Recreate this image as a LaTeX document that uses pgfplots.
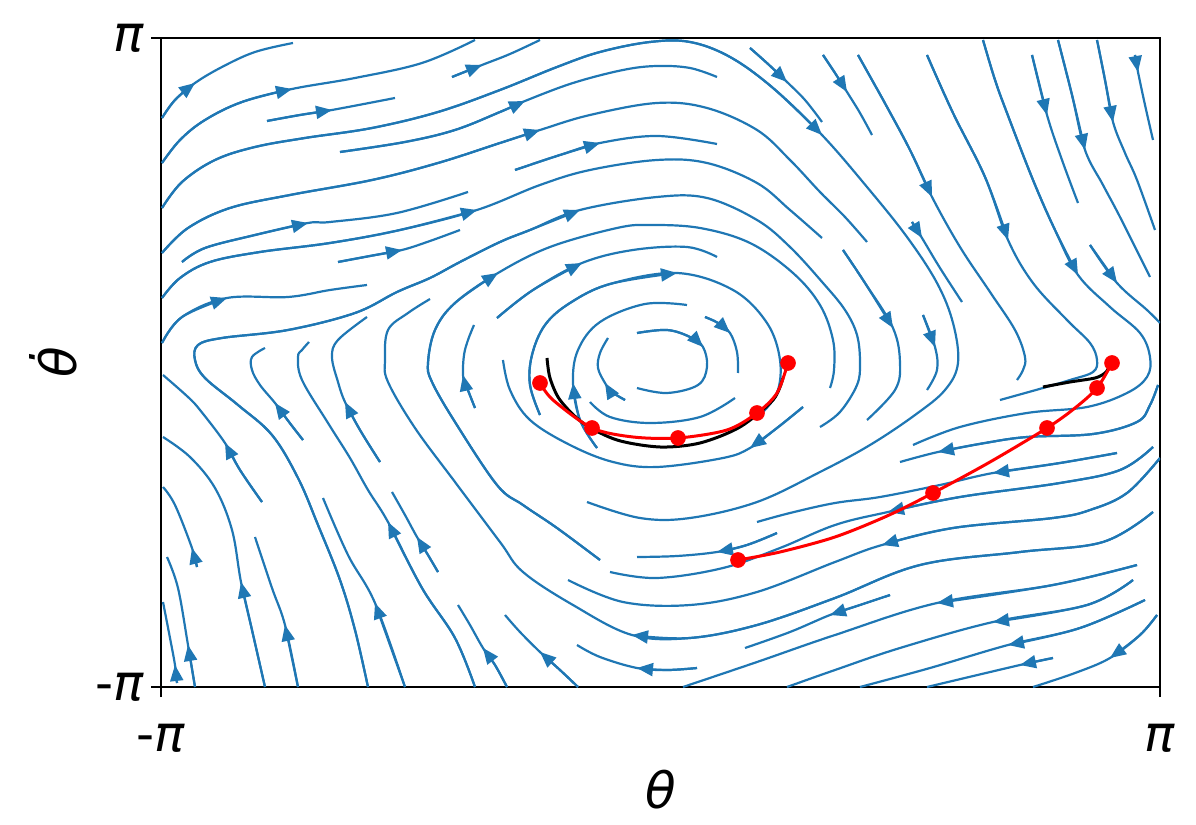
\documentclass[border=0pt]{standalone}
\usepackage{fontspec}
\setmainfont{DejaVu Sans}
\usepackage{pgfplots}
\pgfplotsset{compat=1.18}
\usetikzlibrary{arrows.meta}
\definecolor{mplblue}{HTML}{1F77B4}
\pgfplotsset{sl/.style={mplblue, line width=1.1pt, smooth, tension=0.6, line join=round}}
% streamline: #1 = part up to the arrow head, #2 = rest of the line
\newcommand\SL[2]{\addplot[sl] coordinates {#1 #2};\addplot[sl,-{Triangle[length=8pt,width=6.5pt]}] coordinates {#1};}
\newcommand\SN[1]{\addplot[sl] coordinates {#1};}
\begin{document}
\begin{tikzpicture}
\begin{axis}[
  scale only axis, width=499.5pt, height=324.5pt,
  xmin=-3.14159, xmax=3.14159, ymin=-3.14159, ymax=3.14159,
  % values below in pixel units and converted to theta / theta-dot
  x filter/.expression={(x-660.5)/158.995},
  y filter/.expression={(362.5-y)/103.29},
  axis line style={line width=0.9pt},
  xtick={-3.14159,3.14159}, ytick={-3.14159,3.14159},
  xticklabels={{-\itshape π},{\itshape π}},
  yticklabels={{-\itshape π},{\itshape π}},
  xtick pos=bottom, ytick pos=left,
  tick align=outside, major tick length=5pt,
  tick style={line width=0.9pt, black},
  tick label style={font=\fontsize{25}{30}\selectfont},
  xticklabel style={yshift=-10pt},
  xlabel={\itshape θ}, ylabel={\itshape \.{θ}},
  label style={font=\fontsize{25}{30}\selectfont},
  xlabel style={at={(axis description cs:0.5,-0.158)}, anchor=center},
  ylabel style={at={(axis description cs:-0.108,0.5)}, anchor=center},
]
\coordinate (bbSW) at (rel axis cs:-0.16116,-0.21263);
\coordinate (bbNE) at (rel axis cs:1.03604,1.05855);
% ---------------- top left
\SL{(162,118) (175,100) (195,83)}{(222,67) (255,52) (293,43)}
\SL{(162,163) (180,140) (205,120) (242,102) (292,89)}{(355,78) (422,63) (475,40)}
\SL{(267,121) (300,115) (332,110)}{(395,98)}
\SL{(452,77) (482,65)}{(510,54) (540,40)}
\SL{(162,208) (182,182) (215,160) (255,147) (305,138) (372,128) (438,112) (500,90) (557,67) (600,52) (650,42) (690,42) (730,57) (773,88) (822,135)}{(867,187) (907,237) (937,283) (953,323) (958,363) (945,390) (915,415) (870,445) (820,472) (757,502) (690,518) (640,518) (587,502)}
\SL{(340,152) (405,142) (455,130) (500,112) (525,101)}{(573,83) (623,70) (657,66) (690,68) (717,77)}
\SL{(162,253) (188,228) (230,208) (290,195) (372,180) (438,163) (500,143) (540,130)}{(590,115) (657,103) (707,108) (757,130) (790,160) (820,192) (845,217) (867,242)}
\SL{(182,262) (205,248) (255,235) (308,223)}{(330,222) (397,213) (468,192)}
\SL{(162,298) (180,278) (210,262) (260,252) (330,243) (400,230) (477,210)}{(540,185) (590,170) (657,160) (707,163) (757,183) (790,210) (822,238)}
\SL{(338,262) (370,256) (402,250)}{(430,241) (460,230)}
\SL{(162,343) (182,317) (227,298)}{(288,297) (330,290) (367,285)}
\SL{(515,170) (560,155) (600,143)}{(657,136) (717,144)}
\SL{(368,687) (355,630) (340,580) (318,525) (298,478) (272,435) (238,405) (205,378) (195,360) (198,345) (222,338) (288,330) (355,313) (397,292) (430,278) (460,262) (500,242) (530,230) (580,210)}{(657,197) (707,198) (757,220) (790,247) (823,283) (845,310) (857,335) (860,363) (857,385) (840,412) (820,427)}
\SL{(600,560) (557,528) (523,505) (497,485) (455,422) (432,382) (428,363) (435,330) (455,303) (498,273)}{(550,247) (617,228) (650,225) (700,228) (750,243) (793,273) (820,305) (833,340) (834,370) (830,388)}
\SL{(475,408) (466,385) (463,375)}{(464,355) (468,340) (474,325)}
\SL{(1153,512) (1103,542) (1020,552) (920,565) (835,598) (757,625) (690,638) (632,635)}{(573,605) (523,572) (500,542) (455,482) (415,428) (388,382) (385,360) (388,330) (408,313) (430,299)}
\SL{(380,462) (360,430) (345,402)}{(338,382) (332,357) (338,340) (367,317)}
\SL{(303,440) (289,422) (275,403)}{(260,385) (252,370) (252,357) (265,348)}
\SL{(475,687) (455,638) (422,588) (388,522)}{(368,490) (350,458) (328,423) (302,380) (298,357) (302,350) (309,342)}
% ---------------- bottom left
\SL{(262,502) (240,470) (225,443)}{(200,410) (188,397) (163,375)}
\SL{(265,687) (252,630) (241,582)}{(232,530) (215,488) (190,457) (163,437)}
\SL{(197,567) (192,548)}{(175,505) (163,487)}
\SL{(195,687) (188,645)}{(178,588) (167,557)}
\SL{(177,683) (175,665)}{(170,638) (163,602)}
\SL{(298,687) (285,625)}{(272,588) (255,537)}
\SL{(405,687) (375,603)}{(348,555) (323,498)}
\SL{(507,687) (495,665) (483,648)}{(470,625) (458,605)}
\SL{(438,572) (428,555) (417,537)}{(405,515) (392,492)}
\SL{(578,687) (560,670) (540,652)}{(520,632) (505,615)}
% ---------------- centre
\SL{(497,318) (533,290) (582,263)}{(633,250) (687,247) (717,257)}
\SL{(637,333) (667,330) (690,337) (703,347)}{(707,367) (698,385) (667,393) (637,388)}
\SL{(625,400) (612,392) (605,383)}{(598,368) (600,353) (608,338)}
\SL{(597,448) (580,420) (573,383)}{(578,350) (600,322) (645,304) (687,305)}
\SN{(735,398) (700,417) (650,423) (610,417) (590,402)}
\SL{(705,317) (718,323) (730,333)}{(737,352) (738,373)}
\SL{(540,415) (530,385) (532,355) (545,325) (570,303) (610,284) (677,273)}{(733,290) (767,323) (780,360) (777,393) (760,415)}
\SL{(803,407) (777,428) (750,448)}{(723,458) (657,467) (613,462) (570,445) (530,420) (510,390) (503,360)}
% ---------------- bottom centre / right
\SL{(777,533) (747,545) (717,552)}{(677,556) (637,557)}
\SL{(1117,453) (1060,463) (993,473)}{(940,485) (880,497) (835,503) (790,513) (757,522)}
\SL{(1153,447) (1120,470) (1060,483) (960,497) (888,512)}{(835,525) (780,548) (723,568) (657,578) (610,572)}
\SL{(1160,458) (1127,493) (1090,510) (1053,518) (953,528) (882,545)}{(835,562) (757,592) (690,605) (623,602) (568,580)}
\SL{(1137,565) (1053,585) (937,603)}{(835,635) (757,662) (683,687)}
\SL{(890,595) (860,605) (830,615)}{(790,632) (745,648)}
\SL{(1133,580) (1087,605) (993,622)}{(900,648) (835,670) (787,687)}
\SL{(1145,600) (1080,628) (1008,645)}{(930,668) (860,687)}
\SL{(1053,658) (1020,665)}{(927,687)}
\SL{(1157,615) (1140,635) (1110,658)}{(1075,673) (1033,687)}
\SL{(697,668) (667,670) (637,668)}{(600,657) (577,645)}
% ---------------- top right
\SL{(823,55) (835,73) (847,92)}{(860,113) (872,135)}
\SL{(750,48) (768,64) (787,82)}{(805,100) (822,122)}
\SL{(858,55) (872,80) (887,107) (910,150) (932,197)}{(960,247) (990,292) (1015,330) (1025,357) (1023,370) (1017,380)}
\SL{(927,55) (953,113) (985,177) (1008,240)}{(1033,283) (1067,320) (1090,343) (1097,360) (1093,372) (1070,380) (1043,388) (1000,400)}
\SL{(1032,55) (1047,115)}{(1062,160) (1078,203)}
\SL{(983,40) (995,80) (1007,113) (1033,180) (1055,230) (1078,275)}{(1110,307) (1140,333) (1150,357) (1147,377) (1127,393) (1087,407) (1027,413) (960,427) (913,445)}
\SL{(1097,40) (1105,80) (1113,122)}{(1125,153) (1137,180) (1155,230)}
\SL{(1135,55) (1138,72)}{(1145,105) (1153,140)}
\SL{(1058,40) (1072,95) (1085,150)}{(1103,185) (1120,217) (1150,277)}
\SL{(1090,245) (1117,283)}{(1147,310) (1160,323)}
\SL{(912,222) (922,238)}{(940,268) (962,302)}
\SL{(843,250) (865,283) (893,328)}{(900,363) (895,390) (867,420)}
\SL{(923,315) (935,347)}{(937,370) (927,390)}
\SL{(1158,385) (1150,405) (1137,422) (1093,434) (1027,437) (985,443) (938,452)}{(900,462)}
% ---------------- trajectories
\addplot[black, line width=1.5pt, smooth] coordinates {(547,358) (550,378) (560,400) (583,423) (617,440) (660,447) (700,443) (740,427) (773,400) (783,378)};
\addplot[black, line width=1.5pt, smooth] coordinates {(1043,387) (1070,382) (1095,378) (1105,373) (1110,366)};
\addplot[red, line width=1.5pt, smooth] coordinates {(540,383) (553,400) (592,428) (633,437) (678,438) (727,430) (757,413) (777,393) (788,363)};
\addplot[red, only marks, mark=*, mark size=3.7pt] coordinates {(540,383) (592,428) (678,438) (757,413) (788,363)};
\addplot[red, line width=1.5pt, smooth] coordinates {(738,560) (780,552) (835,537) (887,516) (933,493) (990,462) (1047,428) (1075,408) (1097,388) (1112,363)};
\addplot[red, only marks, mark=*, mark size=3.7pt] coordinates {(738,560) (933,493) (1047,428) (1097,388) (1112,363)};
\end{axis}
\pgfresetboundingbox
\path[use as bounding box] (bbSW) rectangle (bbNE);
\end{tikzpicture}
\end{document}
